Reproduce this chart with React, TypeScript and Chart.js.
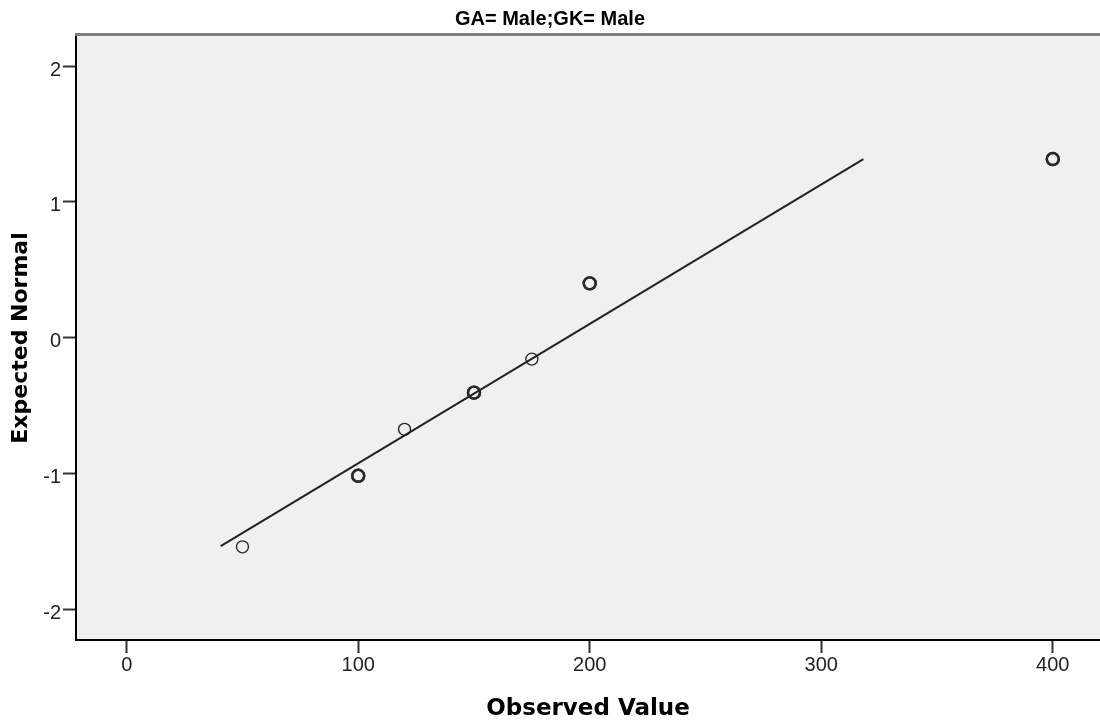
import React, { useEffect, useRef } from "react";
import { Chart, registerables } from "chart.js";

Chart.register(...registerables);

// ---- data ----
const observedValues = [50, 100, 100, 120, 150, 150, 175, 200, 200, 400, 400];
const expectedNormal = [-1.54, -1.017, -1.017, -0.675, -0.405, -0.405, -0.158, 0.4, 0.4, 1.315, 1.315];
const refLineX = [40.6, 318.2];
const refLineY = [-1.535, 1.315];
const xTickValues = [0, 100, 200, 300, 400];
const yTickValues = [-2, -1, 0, 1, 2];
const chartTitle = "GA= Male;GK= Male";
const xAxisTitle = "Observed Value";
const yAxisTitle = "Expected Normal";

const plotFrame = {
  id: "plotFrame",
  beforeDraw(chart: any) {
    const { ctx, chartArea } = chart;
    ctx.save();
    ctx.fillStyle = "#f0f0f0";
    ctx.fillRect(chartArea.left, chartArea.top, chartArea.right - chartArea.left, chartArea.bottom - chartArea.top);
    ctx.restore();
  },
  afterDraw(chart: any) {
    const { ctx, chartArea } = chart;
    ctx.save();
    ctx.strokeStyle = "#7f7f7f";
    ctx.lineWidth = 3;
    ctx.beginPath();
    ctx.moveTo(chartArea.left - 1, chartArea.top - 1.5);
    ctx.lineTo(chartArea.right, chartArea.top - 1.5);
    ctx.stroke();
    ctx.restore();
  },
};

function multiplicity(i: number): number {
  let n = 0;
  for (let k = 0; k < observedValues.length; k++) {
    if (observedValues[k] === observedValues[i] && expectedNormal[k] === expectedNormal[i]) n++;
  }
  return n;
}

export default function App() {
  const canvasRef = useRef<HTMLCanvasElement | null>(null);

  useEffect(() => {
    if (!canvasRef.current) return;
    const points = observedValues.map((x, i) => ({ x, y: expectedNormal[i] }));
    const line = refLineX.map((x, i) => ({ x, y: refLineY[i] }));

    const tickFont = { family: "'Liberation Sans', Arial, sans-serif", size: 20 };

    const chart = new Chart(canvasRef.current, {
      type: "scatter",
      data: {
        datasets: [
          {
            type: "line",
            data: line,
            borderColor: "#222",
            borderWidth: 2,
            pointRadius: 0,
            fill: false,
            showLine: true,
          } as any,
          {
            data: points,
            pointStyle: "circle",
            pointRadius: 6,
            pointHoverRadius: 6,
            backgroundColor: "rgba(0,0,0,0)",
            borderColor: "#2a2a2a",
            borderWidth: (ctx: any) => (multiplicity(ctx.dataIndex) > 1 ? 2.4 : 1.4),
          } as any,
        ],
      },
      options: {
        responsive: false,
        maintainAspectRatio: false,
        animation: false,
        devicePixelRatio: 1,
        layout: { padding: 0, autoPadding: false },
        plugins: {
          legend: { display: false },
          tooltip: { enabled: false },
          title: {
            display: true,
            text: chartTitle,
            color: "#000",
            font: { family: "'Liberation Sans', Arial, sans-serif", size: 20, weight: "bold" },
            padding: { top: 7.5, bottom: 4.5 },
          },
        },
        scales: {
          x: {
            type: "linear",
            min: -21.9,
            max: 420.4,
            afterBuildTicks: (s: any) => {
              s.ticks = xTickValues.map((v) => ({ value: v }));
            },
            afterFit: (s: any) => {
              s.height = 84;
            },
            ticks: { color: "#222", font: tickFont, padding: 0, maxRotation: 0 },
            grid: {
              display: true,
              drawOnChartArea: false,
              drawTicks: true,
              tickLength: 13,
              tickColor: "#333",
              tickWidth: 2,
            },
            border: { display: true, color: "#000", width: 2 },
            title: {
              display: true,
              text: xAxisTitle,
              color: "#000",
              font: { family: "'DejaVu Sans', sans-serif", size: 23, weight: "bold" },
              padding: { top: 0, bottom: 1 },
            },
          },
          y: {
            type: "linear",
            min: -2.226,
            max: 2.221,
            afterBuildTicks: (s: any) => {
              s.ticks = yTickValues.map((v) => ({ value: v }));
            },
            afterFit: (s: any) => {
              s.width = 76;
            },
            ticks: { color: "#222", font: tickFont, padding: 2, labelOffset: 4 },
            grid: {
              display: true,
              drawOnChartArea: false,
              drawTicks: true,
              tickLength: 13,
              tickColor: "#333",
              tickWidth: 2,
            },
            border: { display: true, color: "#000", width: 2 },
            title: {
              display: true,
              text: yAxisTitle,
              color: "#000",
              font: { family: "'DejaVu Sans', sans-serif", size: 22, weight: "bold" },
              padding: { top: 8, bottom: 0 },
            },
          },
        },
      } as any,
      plugins: [plotFrame],
    });

    return () => chart.destroy();
  }, []);

  return (
    <div style={{ position: "absolute", left: 0, top: 0, width: 1100, height: 724, background: "#fff" }}>
      <canvas ref={canvasRef} width={1100} height={724} style={{ display: "block", width: 1100, height: 724 }} />
    </div>
  );
}
